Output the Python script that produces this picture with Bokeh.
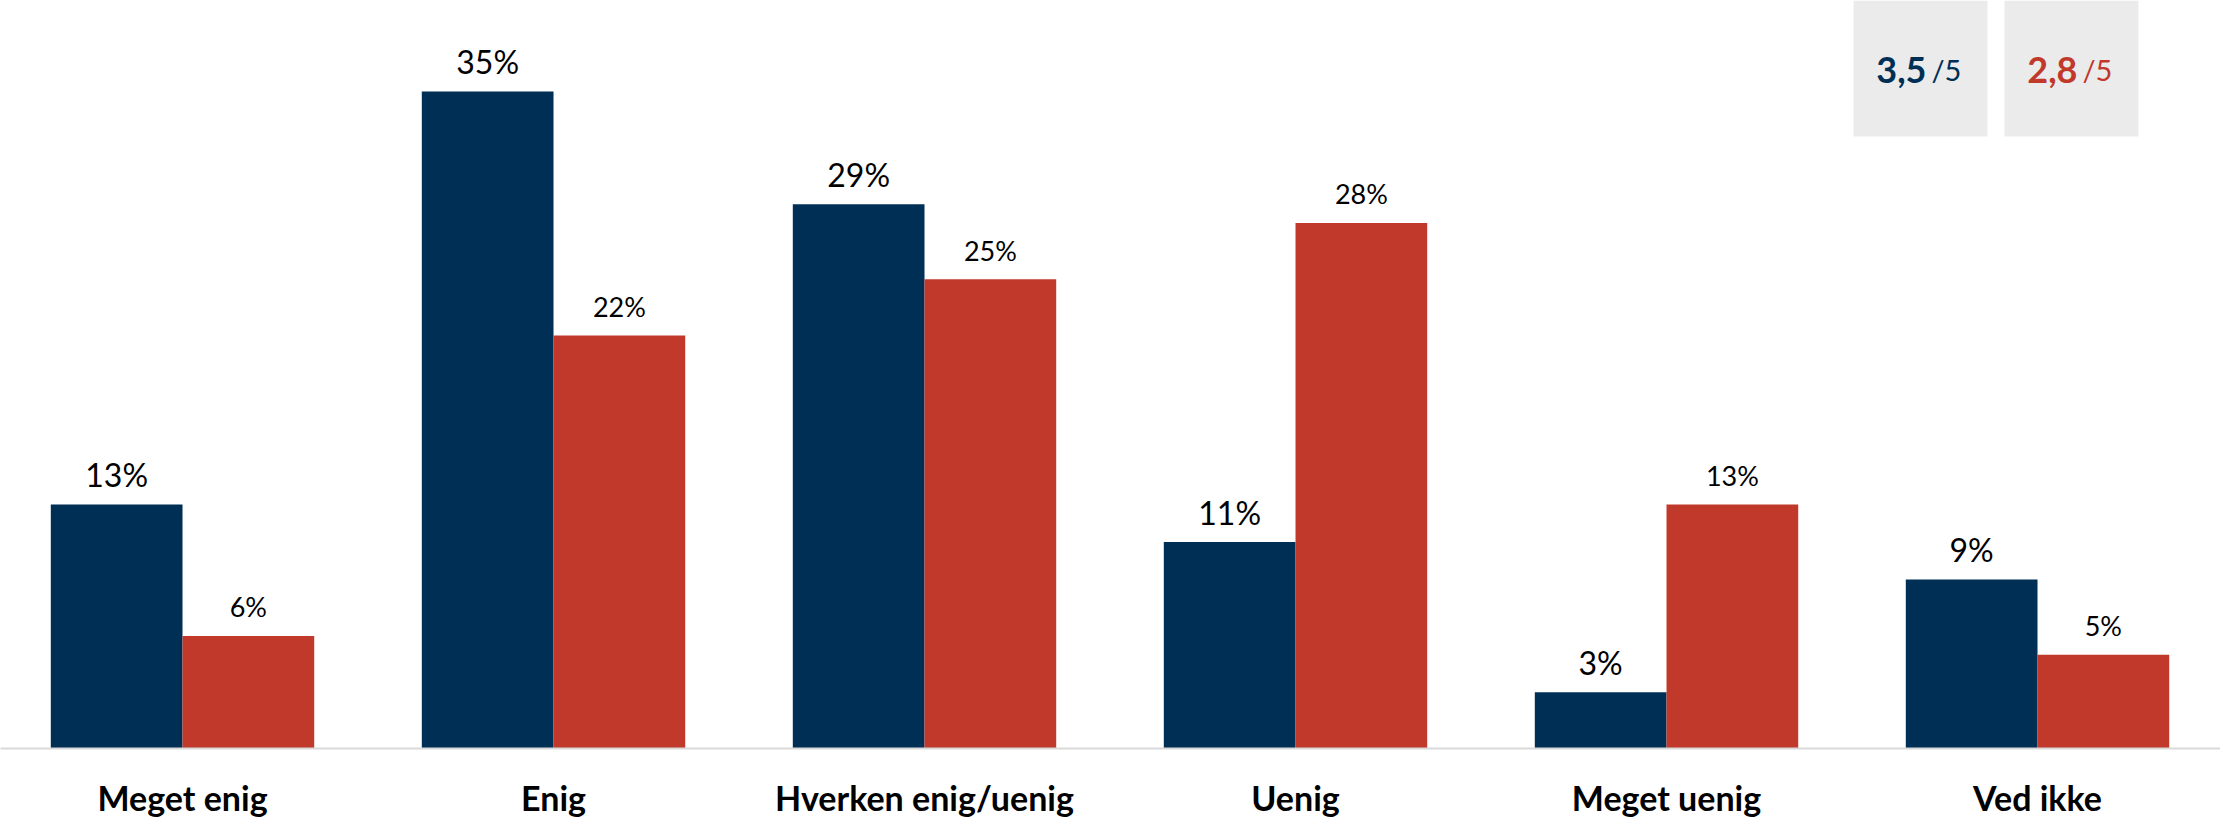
import numpy as np
from bokeh.plotting import figure
from bokeh.models import Range1d, FixedTicker, ColumnDataSource, Label, BoxAnnotation
from bokeh.core.properties import value
from bokeh.embed import file_html
from bokeh.resources import INLINE

# ---- data ----
categories = ["Meget enig", "Enig", "Hverken enig/uenig", "Uenig", "Meget uenig", "Ved ikke"]
series_a = [13, 35, 29, 11, 3, 9]
series_b = [6, 22, 25, 28, 13, 5]
score_a = "3,5"
score_b = "2,8"
score_max = "/5"

BLUE = "#002F56"
RED = "#C0392B"
FONT = "Lato"

bar_w = 0.355
centers = np.arange(len(categories)) + 0.5

src_a = ColumnDataSource(dict(x=centers - bar_w / 2, top=series_a,
                              label=[f"{v}%" for v in series_a]))
src_b = ColumnDataSource(dict(x=centers + bar_w / 2, top=series_b,
                              label=[f"{v}%" for v in series_b]))

p = figure(frame_width=2220, frame_height=748,
           x_range=Range1d(0.0094, 0.0094 + 2220 / 371), y_range=Range1d(0, 748 / 18.77),
           output_backend="svg", toolbar_location=None, min_border=0,
           y_axis_location=None)

p.vbar(x="x", top="top", bottom=0, width=bar_w, source=src_a,
       fill_color=BLUE, line_color=None)
p.vbar(x="x", top="top", bottom=0, width=bar_w, source=src_b,
       fill_color=RED, line_color=None)

p.text(x="x", y="top", text="label", source=src_a, text_align="center",
       text_baseline="alphabetic", y_offset=-30, text_font=value(FONT),
       text_font_size="32px", text_color="black")
p.text(x="x", y="top", text="label", source=src_b, text_align="center",
       text_baseline="alphabetic", y_offset=-29, text_font=value(FONT),
       text_font_size="27px", text_color="black")

# score boxes (top right)
box_left = [5.004, 5.411]
box_w = 0.361
box_bottom = 32.6
score_y = 36.15
for bl, sc, col in zip(box_left, [score_a, score_b], [BLUE, RED]):
    p.add_layout(BoxAnnotation(left=bl, right=bl + box_w, bottom=box_bottom,
                               fill_color="#EBEBEB", fill_alpha=1.0, line_color=None))
    cx = bl + box_w / 2
    p.add_layout(Label(x=cx, y=score_y, text=sc, text_align="right", x_offset=6,
                       text_baseline="alphabetic", text_font=FONT,
                       text_font_style="bold", text_font_size="36px", text_color=col))
    p.add_layout(Label(x=cx, y=score_y, text=score_max, text_align="left", x_offset=11,
                       text_baseline="alphabetic", text_font=FONT,
                       text_font_size="29px", text_color=col))

# axes / styling
p.xgrid.visible = False
p.ygrid.visible = False
p.outline_line_color = None
p.xaxis.ticker = FixedTicker(ticks=list(centers))
p.xaxis.major_label_overrides = {float(c): cat for c, cat in zip(centers, categories)}
p.xaxis.major_tick_line_color = None
p.xaxis.minor_tick_line_color = None
p.xaxis.axis_line_color = "#D9D9D9"
p.xaxis.axis_line_width = 2
p.xaxis.major_label_standoff = 22
p.xaxis.major_label_text_font = FONT
p.xaxis.major_label_text_font_style = "bold"
p.xaxis.major_label_text_font_size = "34px"
p.xaxis.major_label_text_color = "black"

open("out.html", "w").write(file_html(p, INLINE))
